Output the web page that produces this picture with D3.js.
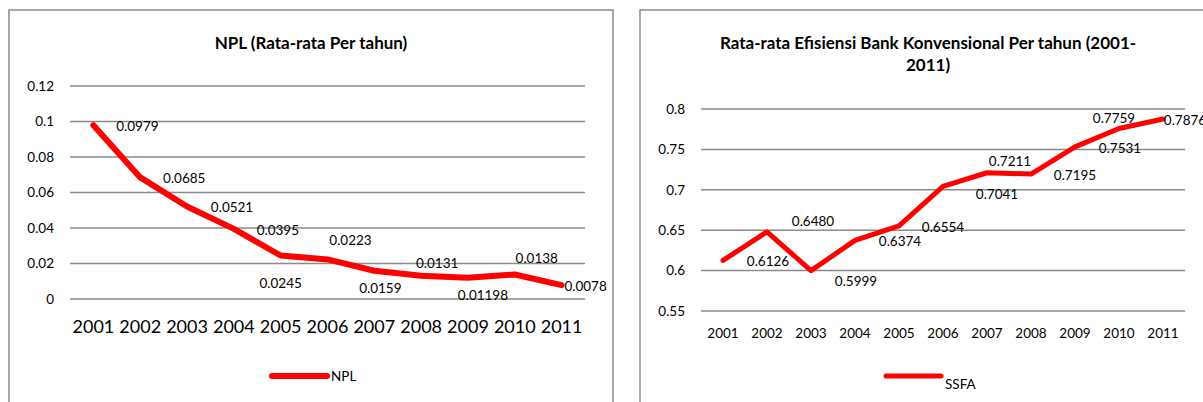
<!DOCTYPE html>
<html>
<head>
<meta charset="utf-8">
<script src="https://cdn.jsdelivr.net/npm/d3@7"></script>
<style>
  html, body { margin: 0; padding: 0; background: #fff; }
  svg { display: block; font-family: Lato, "Open Sans", sans-serif; }
</style>
</head>
<body>
<script>
const years = ["2001", "2002", "2003", "2004", "2005", "2006", "2007", "2008", "2009", "2010", "2011"];

const nplValues = [0.0979, 0.0685, 0.0521, 0.0395, 0.0245, 0.0223, 0.0159, 0.0131, 0.01198, 0.0138, 0.0078];
const nplLabels = ["0.0979", "0.0685", "0.0521", "0.0395", "0.0245", "0.0223", "0.0159", "0.0131", "0.01198", "0.0138", "0.0078"];
const nplTicks = [0, 0.02, 0.04, 0.06, 0.08, 0.1, 0.12];

const ssfaValues = [0.6126, 0.648, 0.5999, 0.6374, 0.6554, 0.7041, 0.7211, 0.7195, 0.7531, 0.7759, 0.7876];
const ssfaLabels = ["0.6126", "0.6480", "0.5999", "0.6374", "0.6554", "0.7041", "0.7211", "0.7195", "0.7531", "0.7759", "0.7876"];
const ssfaTicks = [0.55, 0.6, 0.65, 0.7, 0.75, 0.8];

// where each data label sits relative to its point (Excel labels were dragged by hand)
const nplLabelShift = [[44, 1], [44, 1], [45, 1], [44, 1], [0, 28], [23, -19], [6, 17], [16, -13], [15, 17], [22, -16], [24, 1]];
const ssfaLabelShift = [[45, 1], [46, -11], [45, 10], [45, 1], [44, 1], [54, 8], [23, -12], [44, 1], [45, 1], [-5, -10], [22, 1]];

const width = 1203;
const height = 402;

const svg = d3.select("body")
  .append("svg")
  .attr("width", width)
  .attr("height", height);

const gridColor = "#8a8a8a";
const red = "#ff0000";

function drawPanel(opt) {
  const g = svg.append("g");

  // chart frame
  g.append("rect")
    .attr("x", opt.frame[0])
    .attr("y", opt.frame[1])
    .attr("width", opt.frame[2])
    .attr("height", opt.frame[3])
    .attr("fill", "none")
    .attr("stroke", "#8c8c8c")
    .attr("stroke-width", 1.5);

  // title
  const title = g.append("text")
    .attr("text-anchor", "middle")
    .attr("font-weight", "bold")
    .attr("font-size", opt.titleSize)
    .attr("fill", "#000");
  opt.title.forEach((line, i) => {
    title.append("tspan")
      .attr("x", opt.titleX)
      .attr("y", opt.titleY + i * 22)
      .text(line);
  });

  const x = d3.scaleBand()
    .domain(years)
    .range([opt.left, opt.right]);

  const y = d3.scaleLinear()
    .domain(opt.domain)
    .range([opt.bottom, opt.top]);

  // gridlines
  g.append("g")
    .selectAll("line")
    .data(opt.ticks)
    .join("line")
    .attr("x1", opt.left)
    .attr("x2", opt.right)
    .attr("y1", d => y(d))
    .attr("y2", d => y(d))
    .attr("stroke", gridColor)
    .attr("stroke-width", 1.5);

  // y tick labels
  g.append("g")
    .selectAll("text")
    .data(opt.ticks)
    .join("text")
    .attr("x", opt.yLabelX)
    .attr("y", d => y(d))
    .attr("dy", "0.36em")
    .attr("text-anchor", "end")
    .attr("font-size", 13.5)
    .attr("fill", "#000")
    .text(d => String(d));

  // x tick labels
  g.append("g")
    .selectAll("text")
    .data(years)
    .join("text")
    .attr("x", d => x(d) + x.bandwidth() / 2)
    .attr("y", opt.xLabelY)
    .attr("dy", "0.36em")
    .attr("text-anchor", "middle")
    .attr("font-size", opt.xLabelSize)
    .attr("fill", "#000")
    .text(d => d);

  const line = d3.line()
    .x((d, i) => x(years[i]) + x.bandwidth() / 2)
    .y(d => y(d));

  g.append("path")
    .datum(opt.values)
    .attr("d", line)
    .attr("fill", "none")
    .attr("stroke", red)
    .attr("stroke-width", opt.lineWidth)
    .attr("stroke-linejoin", "round")
    .attr("stroke-linecap", "round");

  // data labels
  g.append("g")
    .selectAll("text")
    .data(opt.values)
    .join("text")
    .attr("x", (d, i) => x(years[i]) + x.bandwidth() / 2 + opt.shift[i][0])
    .attr("y", (d, i) => y(d) + opt.shift[i][1])
    .attr("dy", "0.36em")
    .attr("text-anchor", "middle")
    .attr("font-size", 13.5)
    .attr("fill", "#000")
    .text((d, i) => opt.labels[i]);

  // legend
  const lg = g.append("g");
  lg.append("line")
    .attr("x1", opt.legend[0])
    .attr("x2", opt.legend[0] + 55)
    .attr("y1", opt.legend[1])
    .attr("y2", opt.legend[1])
    .attr("stroke", red)
    .attr("stroke-width", opt.lineWidth)
    .attr("stroke-linecap", "round");
  lg.append("text")
    .attr("x", opt.legend[0] + 59)
    .attr("y", opt.legend[1] + opt.legendTextDy)
    .attr("dy", "0.36em")
    .attr("font-size", 13.5)
    .attr("fill", "#000")
    .text(opt.name);
}

drawPanel({
  frame: [9, 10, 604, 420],
  title: ["NPL (Rata-rata Per tahun)"],
  titleX: 311, titleY: 49, titleSize: 17,
  left: 70, right: 585, top: 86, bottom: 299,
  domain: [0, 0.12],
  ticks: nplTicks,
  yLabelX: 54,
  xLabelY: 327, xLabelSize: 18,
  values: nplValues, labels: nplLabels, shift: nplLabelShift,
  lineWidth: 6,
  legend: [272, 376], legendTextDy: 0,
  name: "NPL"
});

drawPanel({
  frame: [640, 10, 600, 420],
  title: ["Rata-rata Efisiensi Bank Konvensional Per tahun (2001-", "2011)"],
  titleX: 928, titleY: 49, titleSize: 17,
  left: 701, right: 1185, top: 109, bottom: 311,
  domain: [0.55, 0.8],
  ticks: ssfaTicks,
  yLabelX: 685,
  xLabelY: 333, xLabelSize: 13.5,
  values: ssfaValues, labels: ssfaLabels, shift: ssfaLabelShift,
  lineWidth: 5,
  legend: [886, 376], legendTextDy: 8,
  name: "SSFA"
});
</script>
</body>
</html>
